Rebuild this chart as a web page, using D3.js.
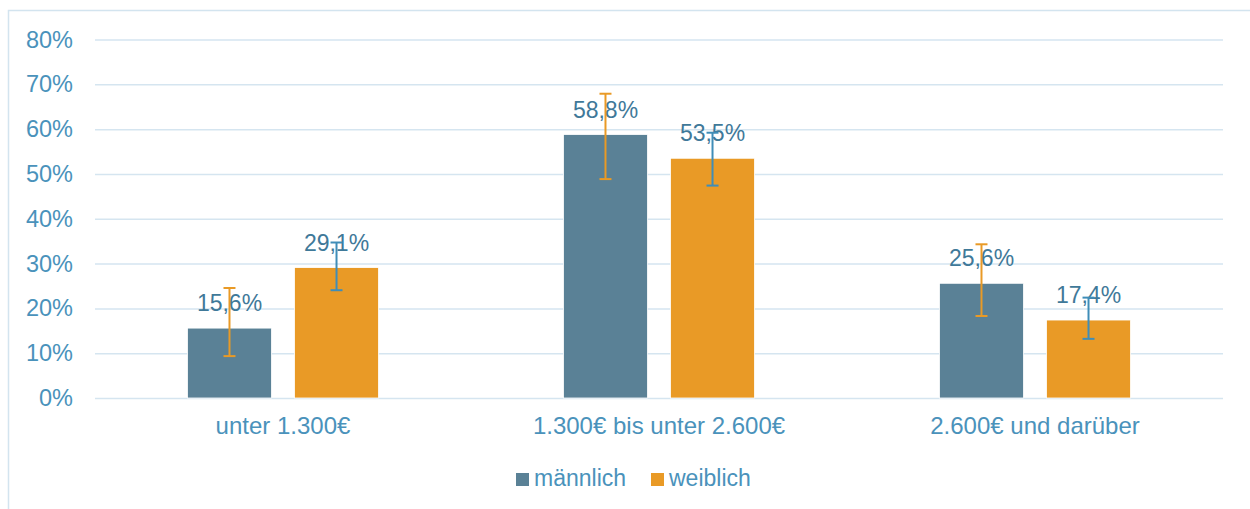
<!DOCTYPE html>
<html>
<head>
<meta charset="utf-8">
<script src="https://cdn.jsdelivr.net/npm/d3@7"></script>
<style>
  body { margin: 0; background: #fff; }
  svg { font-family: "Liberation Sans", Arial, sans-serif; }
</style>
</head>
<body>
<div class="board"></div>
<script>
// data
var categories = ["unter 1.300€", "1.300€ bis unter 2.600€", "2.600€ und darüber"];
var seriesNames = ["männlich", "weiblich"];
var maleValues = [0.156, 0.588, 0.256];
var femaleValues = [0.291, 0.535, 0.174];
var maleErrLow = [0.0935, 0.4885, 0.183];
var maleErrHigh = [0.2455, 0.679, 0.343];
var femaleErrLow = [0.2405, 0.474, 0.132];
var femaleErrHigh = [0.347, 0.592, 0.224];
var yTicks = [0, 0.1, 0.2, 0.3, 0.4, 0.5, 0.6, 0.7, 0.8];

var barColors = ["#5a8196", "#e99a26"];
var errColors = ["#e99a26", "#3f8db8"];

var width = 1250, height = 509;

var svg = d3.select(".board").append("svg")
            .attr("width", width)
            .attr("height", height);

// outer frame
svg.append("rect")
   .attr("x", 8.5).attr("y", 10.5)
   .attr("width", 1260).attr("height", 520)
   .attr("fill", "none")
   .attr("stroke", "#d3e4ef")
   .attr("stroke-width", 1.5);

var y = d3.scaleLinear().domain([0, 0.8]).range([398, 39.5]);
var x0 = d3.scaleBand().domain(categories).range([95, 1223]).padding(0);
var x1 = d3.scaleBand().domain(seriesNames).range([0, x0.bandwidth()])
           .paddingInner(0.215).paddingOuter(0.864);

// gridlines + y labels
var yAxis = d3.axisLeft(y)
              .tickValues(yTicks)
              .tickSize(-(1223 - 95))
              .tickPadding(22)
              .tickFormat(d3.format(".0%"));

var gy = svg.append("g").attr("transform", "translate(95,0)").call(yAxis);
gy.select(".domain").remove();
gy.selectAll(".tick line").attr("stroke", "#d5e5f0").attr("stroke-width", 1.5);
gy.selectAll(".tick text")
  .attr("fill", "#4a92bb")
  .style("font-size", "23.5px");

// x labels
var xAxis = d3.axisBottom(x0).tickSize(0).tickPadding(19);
var gx = svg.append("g").attr("transform", "translate(0,398)").call(xAxis);
gx.select(".domain").remove();
gx.selectAll(".tick text")
  .attr("fill", "#4a92bb")
  .style("font-size", "24px");

var rows = categories.map(function(c, i) {
  return [
    { cat: c, s: 0, v: maleValues[i], lo: maleErrLow[i], hi: maleErrHigh[i] },
    { cat: c, s: 1, v: femaleValues[i], lo: femaleErrLow[i], hi: femaleErrHigh[i] }
  ];
});
var flat = [].concat.apply([], rows);

function cx(d) { return x0(d.cat) + x1(seriesNames[d.s]) + x1.bandwidth() / 2; }

svg.append("g").selectAll("rect")
   .data(flat).enter().append("rect")
   .attr("x", function(d) { return x0(d.cat) + x1(seriesNames[d.s]); })
   .attr("y", function(d) { return y(d.v); })
   .attr("width", x1.bandwidth())
   .attr("height", function(d) { return y(0) - y(d.v); })
   .attr("fill", function(d) { return barColors[d.s]; })
   .attr("stroke", "#ffffff")
   .attr("stroke-width", 0.8);

// data labels
svg.append("g").selectAll("text")
   .data(flat).enter().append("text")
   .attr("x", cx)
   .attr("y", function(d) { return y(d.v) - 17; })
   .attr("text-anchor", "middle")
   .attr("fill", "#3f7999")
   .style("font-size", "23px")
   .text(function(d) { return d3.format(".1f")(d.v * 100).replace(".", ",") + "%"; });

// error bars
var eb = svg.append("g").selectAll("g")
            .data(flat).enter().append("g")
            .attr("stroke", function(d) { return errColors[d.s]; })
            .attr("stroke-width", 2);
eb.append("line")
  .attr("x1", cx).attr("x2", cx)
  .attr("y1", function(d) { return y(d.lo); })
  .attr("y2", function(d) { return y(d.hi); });
eb.append("line")
  .attr("x1", function(d) { return cx(d) - 6; })
  .attr("x2", function(d) { return cx(d) + 6; })
  .attr("y1", function(d) { return y(d.hi); })
  .attr("y2", function(d) { return y(d.hi); });
eb.append("line")
  .attr("x1", function(d) { return cx(d) - 6; })
  .attr("x2", function(d) { return cx(d) + 6; })
  .attr("y1", function(d) { return y(d.lo); })
  .attr("y2", function(d) { return y(d.lo); });

// legend
var legendX = [516, 651];
var lg = svg.append("g").selectAll("g")
            .data(seriesNames).enter().append("g")
            .attr("transform", function(d, i) { return "translate(" + legendX[i] + ",473)"; });
lg.append("rect")
  .attr("width", 13).attr("height", 13)
  .attr("fill", function(d, i) { return barColors[i]; });
lg.append("text")
  .attr("x", 18).attr("y", 13)
  .attr("fill", "#4a92bb")
  .style("font-size", "23px")
  .text(function(d) { return d; });
</script>
</body>
</html>
